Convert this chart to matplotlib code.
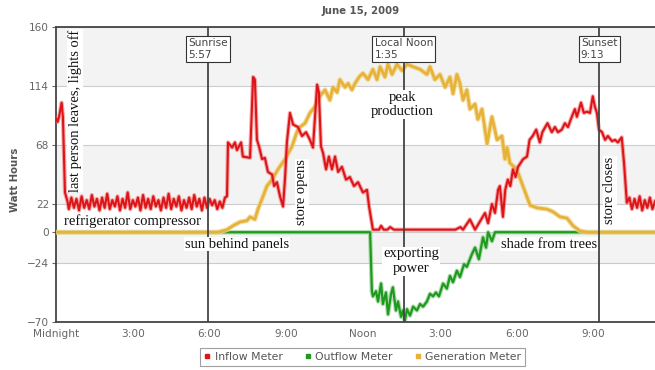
import matplotlib
matplotlib.use('Agg')
import matplotlib.pyplot as plt
from matplotlib.lines import Line2D

title = 'June 15, 2009'
y_label = 'Watt Hours'
y_ticks = [-70, -24, 0, 22, 68, 114, 160]
x_ticks = [0, 3, 6, 9, 12, 15, 18, 21]
x_tick_labels = ['Midnight', '3:00', '6:00', '9:00', 'Noon', '3:00', '6:00', '9:00']
series_names = ['Inflow Meter', 'Outflow Meter', 'Generation Meter']

# Inflow meter (hours, watt hours)
inflow_t = [0.00, 0.06, 0.12, 0.22, 0.27, 0.35, 0.45,
            0.5, 0.6, 0.7, 0.8, 0.9, 1.0, 1.1, 1.2, 1.3, 1.4,
            1.5, 1.6, 1.7, 1.8, 1.9, 2.0, 2.1, 2.2, 2.3, 2.4,
            2.5, 2.6, 2.7, 2.8, 2.9, 3.0, 3.1, 3.2, 3.3, 3.4,
            3.5, 3.6, 3.7, 3.8, 3.9, 4.0, 4.1, 4.2, 4.3, 4.4,
            4.5, 4.6, 4.7, 4.8, 4.9, 5.0, 5.1, 5.2, 5.3, 5.4,
            5.5, 5.6, 5.7, 5.8, 5.9, 6.0, 6.1, 6.2, 6.3, 6.4,
            6.5, 6.6,
            6.68, 6.72, 6.88, 6.99, 7.07, 7.23, 7.30, 7.58, 7.70, 7.77,
            7.85, 7.93, 8.05, 8.16, 8.28, 8.44, 8.52, 8.63, 8.75, 8.87,
            8.95, 9.02, 9.14, 9.26, 9.45, 9.61, 9.77, 9.92, 10.04, 10.20,
            10.27, 10.35, 10.43, 10.55, 10.66, 10.78, 10.90, 11.02, 11.17, 11.33,
            11.48, 11.64, 11.80, 11.99, 12.15, 12.23, 12.38,
            12.5, 12.62, 12.7, 12.8, 12.95, 13.05, 13.2, 14.0, 15.0, 15.6,
            15.8, 15.9, 16.17, 16.37, 16.76, 16.88, 17.03, 17.15, 17.27, 17.34,
            17.46, 17.55, 17.65, 17.75, 17.85, 17.95, 18.05, 18.25, 18.4, 18.5,
            18.62, 18.76, 18.9, 19.0, 19.2, 19.37, 19.49, 19.61, 19.76, 19.88,
            20.0, 20.15, 20.27, 20.35, 20.51, 20.62, 20.74, 20.86, 20.97, 21.05,
            21.13, 21.21, 21.33, 21.45, 21.56, 21.72, 21.84, 21.95, 22.1, 22.19,
            22.3, 22.4, 22.5, 22.6, 22.7, 22.8, 22.9, 23.0, 23.1, 23.2,
            23.3, 23.4]
inflow_v = [89, 86, 90, 101, 90, 31, 24,
            18, 27, 19, 26, 17, 28, 19, 25, 18, 29,
            20, 26, 17, 27, 19, 30, 18, 25, 20, 28,
            17, 26, 19, 31, 18, 25, 20, 27, 17, 29,
            19, 26, 18, 28, 20, 25, 17, 27, 19, 30,
            18, 26, 20, 28, 17, 25, 19, 27, 18, 29,
            20, 26, 17, 27, 19, 26, 21, 25, 18, 24,
            19, 27,
            28, 70, 66, 70, 64, 70, 59, 58, 121, 119,
            72, 67, 57, 58, 47, 45, 36, 39, 28, 20,
            43, 70, 93, 84, 82, 75, 78, 72, 66, 115,
            109, 67, 62, 49, 59, 49, 59, 47, 51, 41,
            43, 36, 39, 31, 33, 20, 2,
            2, 2, 5, 2, 2, 4, 2, 2, 2, 2,
            4, 2, 10, 2, 15, 7, 22, 15, 33, 36,
            12, 33, 41, 36, 49, 43, 51, 57, 59, 72,
            75, 80, 70, 78, 85, 78, 82, 78, 80, 85,
            82, 90, 96, 90, 101, 93, 94, 93, 106, 98,
            93, 80, 78, 72, 75, 71, 72, 70, 74, 54,
            23, 27, 18, 26, 19, 28, 17, 25, 19, 27,
            18, 24]

# Outflow meter
outflow_t = [0.0, 12.27, 12.34, 12.38, 12.5, 12.58, 12.7, 12.77, 12.89, 12.97,
             13.09, 13.16, 13.28, 13.36, 13.48, 13.55, 13.63, 13.71, 13.83, 13.95,
             14.1, 14.22, 14.34, 14.49, 14.61, 14.73, 14.84, 14.96, 15.12, 15.27,
             15.39, 15.51, 15.66, 15.78, 15.94, 16.05, 16.25, 16.37, 16.52, 16.68,
             16.8, 16.88, 17.03, 17.15, 23.4]
outflow_v = [0, 0, -46, -50, -46, -54, -40, -56, -47, -64,
             -48, -43, -61, -54, -66, -61, -69, -60, -65, -58,
             -61, -56, -58, -54, -48, -50, -47, -50, -40, -44,
             -34, -39, -30, -35, -25, -27, -17, -12, -21, -4,
             -12, 0, -7, 0, 0]

# Generation meter
generation_t = [0.0, 6.33, 6.68, 6.91, 7.19, 7.46, 7.58, 7.77, 7.89, 8.05,
                8.24, 8.44, 8.67, 8.95, 9.22, 9.41, 9.53, 9.73, 9.92, 10.12,
                10.31, 10.51, 10.7, 10.82, 10.98, 11.09, 11.29, 11.41, 11.56, 11.68,
                11.84, 11.99, 12.19, 12.38, 12.54, 12.66, 12.85, 12.97, 13.13, 13.32,
                13.52, 13.71, 13.95, 14.22, 14.49, 14.61, 14.8, 15.0, 15.2, 15.39,
                15.51, 15.66, 15.78, 15.9, 16.05, 16.17, 16.37, 16.48, 16.64, 16.84,
                17.03, 17.23, 17.42, 17.54, 17.62, 17.73, 18.0, 18.24, 18.52, 18.79,
                19.18, 19.41, 19.69, 19.96, 20.2, 20.47, 20.74, 23.4]
generation_v = [0, 0, 2, 5, 8, 9, 12, 10, 18, 26,
                36, 41, 49, 57, 67, 78, 82, 85, 93, 98,
                106, 111, 103, 113, 109, 119, 113, 116, 111, 116,
                121, 124, 119, 127, 119, 129, 121, 131, 123, 131,
                126, 131, 129, 127, 123, 129, 119, 123, 113, 121,
                108, 123, 116, 103, 111, 96, 100, 88, 96, 69,
                90, 72, 75, 57, 66, 54, 49, 36, 21, 19,
                18, 16, 12, 11, 5, 1, 0, 0]

events_t = [5.95, 13.583, 21.217]
events_labels = ['Sunrise\n5:57', 'Local Noon\n1:35', 'Sunset\n9:13']

notes_text = ['refrigerator compressor', 'sun behind panels', 'store opens',
              'store closes', 'last person leaves, lights off', 'peak\nproduction',
              'exporting\npower', 'shade from trees']
notes_t = [2.97, 7.07, 9.61, 21.64, 0.74, 13.52, 13.87, 19.26]
notes_v = [8.5, -9.3, 31, 32.6, 94.8, 99.4, -22.5, -9.3]
notes_rot = [0, 0, 90, 90, 90, 0, 0, 0]

fig = plt.figure(figsize=(6.55, 3.7), dpi=100)
ax = fig.add_axes([56 / 655, 1 - 322 / 370, 1 - 56 / 655, (322 - 27) / 370])
ax.set_xlim(0, 23.4)
ax.set_ylim(-70, 160)

# alternating bands
for lo, hi in [(114, 160), (22, 68), (-24, 0)]:
    ax.axhspan(lo, hi, color='#f3f3f3', zorder=0, lw=0)
for yv in y_ticks:
    ax.axhline(yv, color='#cccccc', lw=0.8, zorder=0.5)

red, green, orange = '#dd1418', '#1f9a1f', '#e6b23a'

ax.plot(outflow_t, outflow_v, color='#7fc87f', lw=3.2, alpha=0.6, zorder=2, solid_joinstyle='round')
ax.plot(outflow_t, outflow_v, color=green, lw=1.6, zorder=2.1, solid_joinstyle='round')
ax.plot(generation_t, generation_v, color='#f0d890', lw=3.6, alpha=0.8, zorder=3, solid_joinstyle='round')
ax.plot(generation_t, generation_v, color=orange, lw=2.0, zorder=3.1, solid_joinstyle='round')
ax.plot(inflow_t, inflow_v, color='#f07070', lw=3.0, alpha=0.6, zorder=4, solid_joinstyle='round')
ax.plot(inflow_t, inflow_v, color=red, lw=1.5, zorder=4.1, solid_joinstyle='round')

for t, lab in zip(events_t, events_labels):
    ax.axvline(t, color='#444444', lw=1.3, zorder=5)
    ax.text(t, 151.5, lab, ha='center', va='top', fontsize=7.6, color='#444444',
            multialignment='left', zorder=7,
            bbox=dict(boxstyle='square,pad=0.22', fc='white', ec='#333333', lw=0.8))

for txt, t, v, r in zip(notes_text, notes_t, notes_v, notes_rot):
    ax.text(t, v, txt, ha='center', va='center', rotation=r, fontsize=10.5,
            family='Liberation Serif', color='#111111', zorder=6, linespacing=1.15,
            bbox=dict(boxstyle='square,pad=0.05', fc='white', ec='none'))

ax.set_xticks(x_ticks)
ax.set_xticklabels(x_tick_labels)
ax.set_yticks(y_ticks)
ax.tick_params(axis='both', labelsize=7.6, colors='#666666', length=3, width=0.8, pad=2)
ax.tick_params(axis='x', length=0, pad=5)
for s in ['left', 'bottom', 'top']:
    ax.spines[s].set_color('#444444')
    ax.spines[s].set_linewidth(1.3)
ax.spines['right'].set_visible(False)

fig.text(361 / 655, 1 - 11 / 370, title, ha='center', va='center', fontsize=7.3,
         fontweight='bold', color='#555555')
fig.text(15 / 655, 1 - 180 / 370, y_label, ha='center', va='center', rotation=90,
         fontsize=7.3, fontweight='bold', color='#555555')

handles = [Line2D([], [], marker='s', color=c, linestyle='none', markersize=3)
           for c in [red, green, orange]]
leg = fig.legend(handles, series_names, loc='center', bbox_to_anchor=(362.5 / 655, 1 - 357 / 370),
                 ncol=3, fontsize=7.8, frameon=True, fancybox=False, handlelength=0.6,
                 handletextpad=0.4, columnspacing=2.0, borderpad=0.4)
leg.get_frame().set_edgecolor('#888888')
leg.get_frame().set_linewidth(0.8)
for t in leg.get_texts():
    t.set_color('#555555')

fig.savefig('out.png', dpi=100)
